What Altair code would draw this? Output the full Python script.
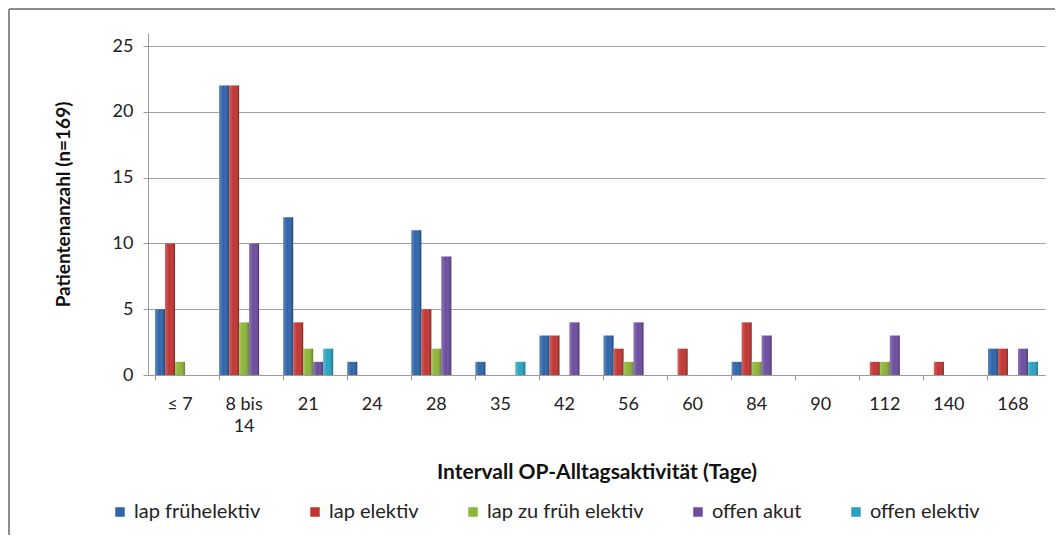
import altair as alt
import pandas as pd

categories = ["≤ 7", "8 bis 14", "21", "24", "28", "35", "42", "56", "60", "84", "90", "112", "140", "168"]
series = ["lap frühelektiv", "lap elektiv", "lap zu früh elektiv", "offen akut", "offen elektiv"]
colors = ["#2D64AC", "#C33431", "#8DB536", "#6C4C9E", "#27A3C2"]

lap_fruehelektiv = [5, 22, 12, 1, 11, 1, 3, 3, 0, 1, 0, 0, 0, 2]
lap_elektiv = [10, 22, 4, 0, 5, 0, 3, 2, 2, 4, 0, 1, 1, 2]
lap_zu_frueh_elektiv = [1, 4, 2, 0, 2, 0, 0, 1, 0, 1, 0, 1, 0, 0]
offen_akut = [0, 10, 1, 0, 9, 0, 4, 4, 0, 3, 0, 3, 0, 2]
offen_elektiv = [0, 0, 2, 0, 0, 1, 0, 0, 0, 0, 0, 0, 0, 1]

values = [lap_fruehelektiv, lap_elektiv, lap_zu_frueh_elektiv, offen_akut, offen_elektiv]
rows = []
for s, vals in zip(series, values):
    for c, v in zip(categories, vals):
        if v > 0:
            rows.append({"Intervall": c, "Serie": s, "Anzahl": v})
df = pd.DataFrame(rows)

FONT = "Lato"

x_enc = alt.X("Intervall:N", sort=categories,
              scale=alt.Scale(domain=categories, paddingInner=0.22, paddingOuter=0.11),
              axis=alt.Axis(title="Intervall OP-Alltagsaktivität (Tage)", labelAngle=0,
                            labelExpr="datum.value == '8 bis 14' ? ['8 bis', '14'] : datum.value",
                            labelPadding=15, tickSize=5, titlePadding=26, grid=False,
                            labelLineHeight=22, titleFontSize=21,
                            domainColor="#9a9a9a", tickColor="#9a9a9a", bandPosition=0))
xo_enc = alt.XOffset("Serie:N", sort=series, scale=alt.Scale(domain=series, paddingInner=0, paddingOuter=0))
y_enc = alt.Y("Anzahl:Q", scale=alt.Scale(domain=[0, 25]),
              axis=alt.Axis(title="Patientenanzahl (n=169)", values=[0, 5, 10, 15, 20, 25],
                            tickSize=5, labelPadding=10, titlePadding=39,
                            domainColor="#9a9a9a", tickColor="#9a9a9a", gridColor="#a0a0a0"))

base = alt.Chart(df).mark_bar().encode(
    x=x_enc, xOffset=xo_enc, y=y_enc,
    color=alt.Color("Serie:N", sort=series, scale=alt.Scale(domain=series, range=colors),
                    legend=alt.Legend(title=None, orient="none", direction="horizontal",
                                      columns=5, legendX=-38, legendY=469,
                                      symbolType="square", symbolSize=90,
                                      columnPadding=44, labelFontSize=20, labelFont=FONT,
                                      labelColor="#222222", labelLimit=300)),
)

shade = alt.Chart(df).mark_bar(
    color=alt.Gradient(gradient="linear", x1=0, x2=1, y1=0, y2=0,
                       stops=[alt.GradientStop(offset=0, color="rgba(255,255,255,0.22)"),
                              alt.GradientStop(offset=0.45, color="rgba(255,255,255,0.0)"),
                              alt.GradientStop(offset=1, color="rgba(0,0,0,0.30)")])
).encode(x=alt.X("Intervall:N", sort=categories), xOffset=alt.XOffset("Serie:N", sort=series), y="Anzahl:Q")

frame_top = alt.Chart(df).mark_rule(color="#8c8c8c", strokeWidth=2).encode(
    x=alt.value(-139), x2=alt.value(915), y=alt.value(-24))
frame_left = alt.Chart(df).mark_rule(color="#8c8c8c", strokeWidth=2).encode(
    x=alt.value(-139), y=alt.value(-24), y2=alt.value(520))

chart = alt.layer(base, shade, frame_top, frame_left).properties(
    width=897, height=342,
    autosize=alt.AutoSizeParams(type="none"),
    padding={"left": 140, "top": 25, "right": 10, "bottom": 160},
    background="white",
).configure_view(stroke=None).configure_axis(
    labelFont=FONT, titleFont=FONT, labelFontSize=18, titleFontSize=19,
    labelColor="#222222", titleColor="#111111", titleFontWeight="bold",
)

chart.save("out.html", embed_options={"renderer": "svg", "actions": False})
